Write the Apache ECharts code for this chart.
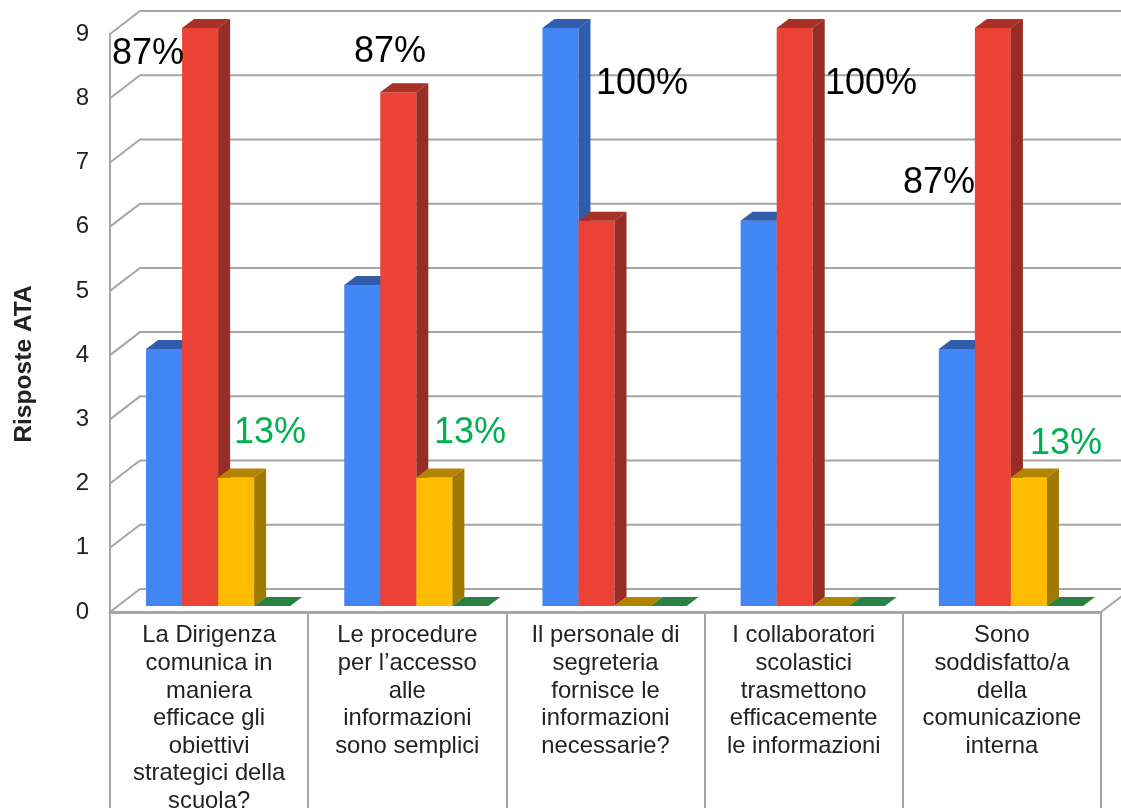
<!DOCTYPE html>
<html><head><meta charset="utf-8">
<style>html,body{margin:0;padding:0;background:#fff}#c{width:1121px;height:808px}</style>
<script src="https://cdn.jsdelivr.net/npm/echarts@6/dist/echarts.min.js"></script>
</head><body><div id="c"></div>
<script>
const categories = [
 "La Dirigenza\ncomunica in\nmaniera\nefficace gli\nobiettivi\nstrategici della\nscuola?",
 "Le procedure\nper l’accesso\nalle\ninformazioni\nsono semplici",
 "Il personale di\nsegreteria\nfornisce le\ninformazioni\nnecessarie?",
 "I collaboratori\nscolastici\ntrasmettono\nefficacemente\nle informazioni",
 "Sono\nsoddisfatto/a\ndella\ncomunicazione\ninterna"
];
const blueValues   = [4,5,9,6,4];
const redValues    = [9,8,6,9,9];
const yellowValues = [2,2,0,0,2];
const greenValues  = [0,0,0,0,0];
const yTicks = [0,1,2,3,4,5,6,7,8,9];
const pctLabels = [
 {t:"87%",x:148,y:54,c:"#000"},{t:"87%",x:390,y:52,c:"#000"},
 {t:"100%",x:642,y:84,c:"#000"},{t:"100%",x:871,y:84,c:"#000"},
 {t:"87%",x:939,y:183,c:"#000"},
 {t:"13%",x:270,y:433,c:"#00B050"},{t:"13%",x:470,y:433,c:"#00B050"},{t:"13%",x:1066,y:444,c:"#00B050"}
];
const FONT = '"Liberation Sans", Arial, sans-serif';
const GRID = '#a6a6a6';
// 3D projection
const WALL_DX = 30, WALL_DY = 23, BAR_DX = 12, BAR_DY = 9, BAR_LIFT = 6;

function barSeries(name, values, idx, front, side, top) {
  return {
    name, type:'custom', coordinateSystem:'cartesian2d', z:5, clip:false,
    data: values.map((v,i)=>[i,v]),
    encode:{x:0,y:1},
    renderItem(params, api){
      const p = api.coord([api.value(0), api.value(1)]);
      const base = api.coord([api.value(0), 0]);
      const band = api.size([1,0])[0];
      const w = band/5.5;
      const x0 = p[0]-band/2 + w*(1+idx);
      const x1 = x0+w;
      const yt = p[1]-BAR_LIFT, yb = base[1]-BAR_LIFT;
      const children = [];
      if (yb-yt>0.5) {
        children.push({type:'rect',shape:{x:x0,y:yt,width:w,height:yb-yt},style:{fill:front}});
        children.push({type:'polygon',shape:{points:[[x1,yt],[x1+BAR_DX,yt-BAR_DY],[x1+BAR_DX,yb-BAR_DY],[x1,yb]]},style:{fill:side}});
      }
      children.push({type:'polygon',shape:{points:[[x0,yt],[x1,yt],[x1+BAR_DX,yt-BAR_DY],[x0+BAR_DX,yt-BAR_DY]]},style:{fill:top}});
      return {type:'group',children};
    }
  };
}
const chart = echarts.init(document.getElementById('c'),null,{renderer:'canvas'});
chart.setOption({
  animation:false,
  backgroundColor:'#fff',
  grid:{left:110,right:20,top:34,height:578,containLabel:false,outerBoundsMode:'none'},
  xAxis:{type:'category',data:categories,boundaryGap:true,
    axisLine:{show:true,lineStyle:{color:GRID,width:3}},
    axisTick:{show:true,length:200,alignWithLabel:false,lineStyle:{color:GRID,width:2}},
    axisLabel:{interval:0,margin:10,color:'#222',fontFamily:FONT,fontSize:23.8,lineHeight:27.6,align:'center',verticalAlign:'top',hideOverlap:false},
    splitLine:{show:false}},
  yAxis:{type:'value',min:0,max:9,interval:1,
    name:'Risposte ATA',nameLocation:'middle',nameGap:73,nameRotate:90,
    nameTextStyle:{fontFamily:FONT,fontWeight:'bold',fontSize:24.6,color:'#222',padding:[0,82,0,0]},
    axisLine:{show:true,lineStyle:{color:GRID,width:2}},
    axisTick:{show:false},
    splitLine:{show:false},
    axisLabel:{margin:21,color:'#222',fontFamily:FONT,fontSize:24}},
  series:[
    {name:'griglia',type:'custom',z:1,clip:false,silent:true,
      data:yTicks.map(v=>[0,v]),encode:{y:1},
      renderItem(params,api){
        const v = api.value(1);
        const l = api.coord([0,v]);
        const band = api.size([1,0])[0];
        const xl = l[0]-band/2;
        const xr = xl+band*categories.length;
        const children = [{type:'polyline',
          shape:{points:[[xl,l[1]],[xl+WALL_DX,l[1]-WALL_DY],[xr+WALL_DX,l[1]-WALL_DY]]},
          style:{stroke:GRID,lineWidth:2,fill:null}}];
        if (v===0) children.push({type:'line',shape:{x1:xr,y1:l[1],x2:xr+WALL_DX,y2:l[1]-WALL_DY},style:{stroke:GRID,lineWidth:2}});
        return {type:'group',children};
      }},
    barSeries('Blu',blueValues,0,'#4285F4','#2F5DAB','#2F5DAB'),
    barSeries('Rosso',redValues,1,'#EA4335','#962E25','#A83026'),
    barSeries('Giallo',yellowValues,2,'#FFBB00','#A07900','#B38400'),
    barSeries('Verde',greenValues,3,'#2A8142','#2A8142','#2A8142')
  ],
  graphic:{elements:pctLabels.map(l=>({type:'text',x:l.x,y:l.y,z:20,
    style:{text:l.t,fill:l.c,font:'36px '+FONT,textAlign:'center',textVerticalAlign:'middle'}}))}
});
</script></body></html>
